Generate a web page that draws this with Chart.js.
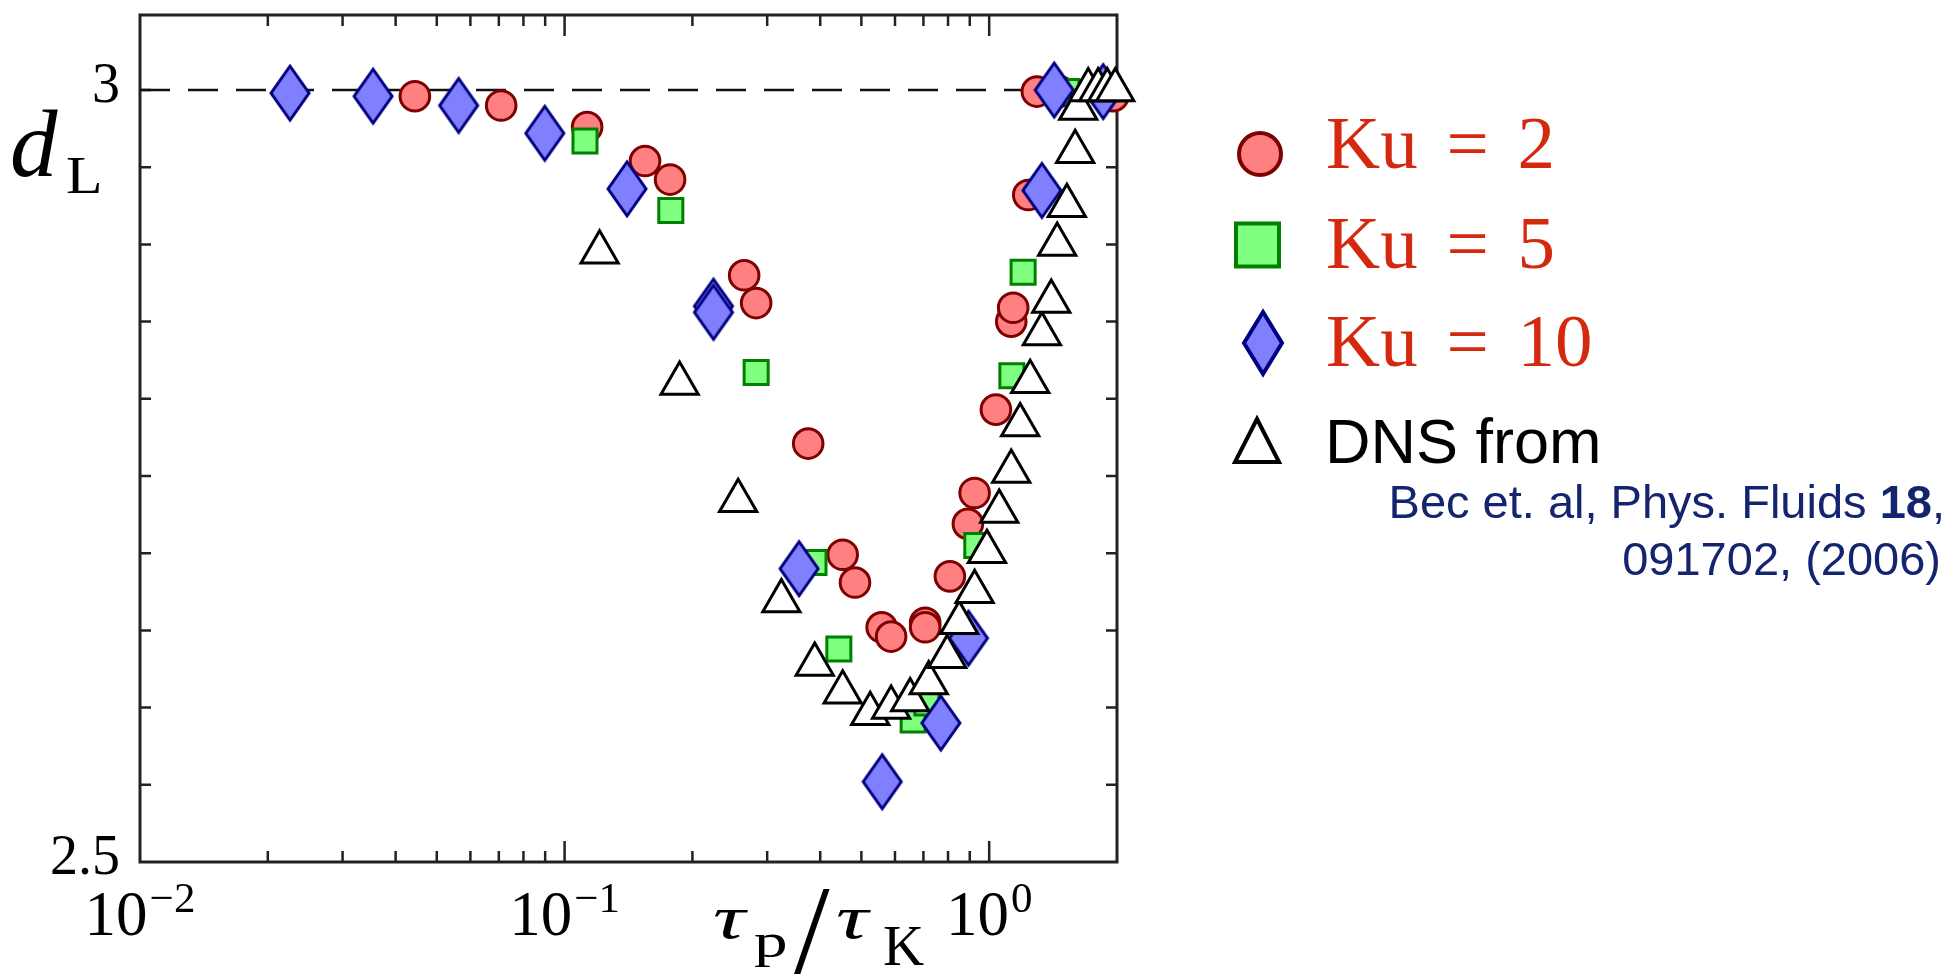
<!DOCTYPE html>
<html>
<head>
<meta charset="utf-8">
<script src="https://cdn.jsdelivr.net/npm/chart.js@4.4.1/dist/chart.umd.min.js"></script>
<style>
  html, body { margin: 0; padding: 0; background: #fff; overflow: hidden; }
  #wrap { position: relative; width: 1960px; height: 975px; }
  #chart { position: absolute; left: 0; top: 0; }
  .t { position: absolute; line-height: 1; white-space: nowrap; transform-origin: 0 0; }
  .serif { font-family: "Liberation Serif", "DejaVu Serif", serif; }
  .sans { font-family: "Liberation Sans", Arial, sans-serif; }
  .ku { left: 1326px; font-size: 75px; color: #d4290f; word-spacing: 10px; }
  .cite { font-size: 47px; color: #15246e; }
</style>
</head>
<body>
<div id="wrap">
  <canvas id="chart" width="1960" height="975"></canvas>

  <!-- axis titles -->
  <div class="t serif" style="left:10px; top:97px; font-size:95px; font-style:italic;">d</div>
  <div class="t serif" style="left:66px; top:150px; font-size:52px; transform:scaleX(1.15);">L</div>

  <div class="t serif" style="left:713px; top:886px; font-size:62px; font-style:italic; transform:scaleX(1.45);">τ</div>
  <div class="t serif" style="left:754px; top:917px; font-size:48px; transform:scaleX(1.4);">p</div>
  <div class="t serif" style="left:794px; top:866px; font-size:128px;">/</div>
  <div class="t serif" style="left:836px; top:886px; font-size:62px; font-style:italic; transform:scaleX(1.45);">τ</div>
  <div class="t serif" style="left:883px; top:917px; font-size:57px;">K</div>

  <!-- legend -->
  <svg style="position:absolute; left:1220px; top:120px;" width="80" height="360">
    <circle cx="40" cy="34" r="21" fill="#ff8080" stroke="#800000" stroke-width="4"/>
    <rect x="16" y="103.5" width="43" height="43" fill="#80ff80" stroke="#008000" stroke-width="4"/>
    <polygon points="43,192 62,223 43,254 24,223" fill="#8080ff" stroke="#000080" stroke-width="4"/>
    <polygon points="37,299 15,342 59,342" fill="#fff" stroke="#000" stroke-width="4"/>
  </svg>
  <div class="t serif ku" style="top:105px;">Ku = 2</div>
  <div class="t serif ku" style="top:205px;">Ku = 5</div>
  <div class="t serif ku" style="top:303px;">Ku = 10</div>
  <div class="t sans" style="left:1325px; top:410px; font-size:63px; color:#000;">DNS from</div>
  <div class="t sans cite" style="right:15px; top:478px;">Bec et. al, Phys. Fluids <b>18</b>,</div>
  <div class="t sans cite" style="right:19px; top:535px;">091702, (2006)</div>
</div>

<script>
// tau_p / tau_K values and d_L for each series
const ku2X = [0.0444, 0.0709, 0.113, 0.1547, 0.1772, 0.2648, 0.2826, 0.3747, 0.4518, 0.483, 0.5581, 0.5875,
              0.7067, 0.7067, 0.808, 0.891, 0.924, 1.037, 1.127, 1.139, 1.236, 1.295, 1.47, 1.96];
const ku2Y = [2.996, 2.990, 2.976, 2.954, 2.942, 2.880, 2.862, 2.771, 2.699, 2.681, 2.652, 2.646,
              2.655, 2.652, 2.685, 2.719, 2.739, 2.793, 2.850, 2.859, 2.932, 2.999, 2.999, 2.996];

const ku5X = [0.1117, 0.1779, 0.2826, 0.3867, 0.4425, 0.6622, 0.7132, 0.935, 1.131, 1.202, 1.444, 1.524];
const ku5Y = [2.967, 2.922, 2.817, 2.694, 2.638, 2.592, 2.603, 2.705, 2.815, 2.882, 2.999, 2.999];

const ku10X = [0.02256, 0.0354, 0.0563, 0.0898, 0.1403, 0.2242, 0.2242, 0.3567, 0.5598, 0.7694, 0.8938,
               1.331, 1.423, 1.856];
const ku10Y = [2.998, 2.996, 2.990, 2.972, 2.936, 2.860, 2.856, 2.690, 2.552, 2.590, 2.645,
               2.935, 3.000, 2.999];

const dnsX = [0.1209, 0.1866, 0.2563, 0.324, 0.3883, 0.4518, 0.5245, 0.5875, 0.6514, 0.7206, 0.7963, 0.85,
              0.924, 0.988, 1.056, 1.127, 1.183, 1.249, 1.331, 1.400, 1.446, 1.524, 1.594, 1.621,
              1.711, 1.806, 1.897, 1.981];
const dnsY = [2.895, 2.810, 2.734, 2.669, 2.628, 2.610, 2.596, 2.600, 2.605, 2.616, 2.633, 2.655,
              2.675, 2.701, 2.727, 2.753, 2.783, 2.811, 2.842, 2.863, 2.900, 2.925, 2.960, 2.988,
              3.0, 3.0, 3.0, 3.0];

// reference line d_L = 3
const refLineX = [0.01, 2];
const refLineY = [3, 3];

// axis ticks and labels
const xMajorTicks = [0.01, 0.1, 1];
const xTickExponents = ['\u22122', '\u22121', '0'];
const yLabelValues = [3, 2.5];
const yTickLabels = ['3', '2.5'];

function toPoints(xs, ys) {
    return xs.map((x, i) => ({ x: x, y: ys[i] }));
}

// tall diamond marker for Ku = 10
function diamondMarker() {
    const c = document.createElement('canvas');
    c.width = 46;
    c.height = 62;
    const g = c.getContext('2d');
    g.beginPath();
    g.moveTo(23, 4);
    g.lineTo(42, 31);
    g.lineTo(23, 58);
    g.lineTo(4, 31);
    g.closePath();
    g.fillStyle = '#8080ff';
    g.fill();
    g.lineWidth = 3;
    g.strokeStyle = '#000080';
    g.stroke();
    return c;
}

const framePlugin = {
    id: 'frame',
    beforeDatasetsDraw(chart) {
        const { ctx, chartArea: a, scales: { x, y } } = chart;
        ctx.save();
        ctx.strokeStyle = '#222';
        ctx.lineWidth = 2.5;
        ctx.beginPath();
        // x ticks, top and bottom, pointing inward
        for (let n = -2; n <= 0; n++) {
            for (let k = 1; k <= 9; k++) {
                const v = k * Math.pow(10, n);
                if (v <= x.min || v >= x.max) continue;
                const px = x.getPixelForValue(v);
                const len = k === 1 ? 21 : 11;
                ctx.moveTo(px, a.bottom);
                ctx.lineTo(px, a.bottom - len);
                ctx.moveTo(px, a.top);
                ctx.lineTo(px, a.top + len);
            }
        }
        // y ticks every 0.05, left and right
        for (let i = 1; i <= 10; i++) {
            const py = y.getPixelForValue(2.5 + 0.05 * i);
            ctx.moveTo(a.left, py);
            ctx.lineTo(a.left + 11, py);
            ctx.moveTo(a.right, py);
            ctx.lineTo(a.right - 11, py);
        }
        ctx.stroke();

        ctx.lineWidth = 3;
        ctx.strokeRect(a.left, a.top, a.right - a.left, a.bottom - a.top);

        // tick labels
        ctx.fillStyle = '#000';
        ctx.textBaseline = 'alphabetic';
        const base = '"Liberation Serif", "DejaVu Serif", serif';
        xMajorTicks.forEach((v, i) => {
            const px = x.getPixelForValue(v);
            ctx.font = '63px ' + base;
            const w1 = ctx.measureText('10').width;
            ctx.font = '43px ' + base;
            const w2 = ctx.measureText(xTickExponents[i]).width;
            const start = px - (w1 + w2 + 2) / 2;
            ctx.font = '63px ' + base;
            ctx.textAlign = 'left';
            ctx.fillText('10', start, 935);
            ctx.font = '43px ' + base;
            ctx.fillText(xTickExponents[i], start + w1 + 2, 912);
        });
        ctx.font = '56px ' + base;
        ctx.textAlign = 'right';
        ctx.textBaseline = 'middle';
        yLabelValues.forEach((v, i) => {
            ctx.fillText(yTickLabels[i], a.left - 20, y.getPixelForValue(v) - 3);
        });
        ctx.restore();
    }
};

const ctx = document.getElementById('chart').getContext('2d');
const chart = new Chart(ctx, {
    type: 'scatter',
    data: {
        datasets: [
            {
                label: 'DNS from Bec et. al',
                data: toPoints(dnsX, dnsY),
                pointStyle: 'triangle',
                pointRadius: 21.5,
                pointBorderWidth: 3,
                pointBackgroundColor: '#ffffff',
                pointBorderColor: '#000000',
                order: 1
            },
            {
                label: 'Ku = 10',
                data: toPoints(ku10X, ku10Y),
                pointStyle: diamondMarker(),
                pointRadius: 20,
                order: 2
            },
            {
                label: 'Ku = 5',
                data: toPoints(ku5X, ku5Y),
                pointStyle: 'rect',
                pointRadius: 17,
                pointBorderWidth: 3,
                pointBackgroundColor: '#80ff80',
                pointBorderColor: '#008000',
                order: 3
            },
            {
                label: 'Ku = 2',
                data: toPoints(ku2X, ku2Y),
                pointStyle: 'circle',
                pointRadius: 14.8,
                pointBorderWidth: 3,
                pointBackgroundColor: '#ff8080',
                pointBorderColor: '#800000',
                order: 4
            },
            {
                type: 'line',
                label: 'd = 3',
                data: toPoints(refLineX, refLineY),
                borderColor: '#111',
                borderWidth: 2.5,
                borderDash: [30, 18],
                pointRadius: 0,
                fill: false,
                order: 5
            }
        ]
    },
    options: {
        responsive: false,
        animation: false,
        devicePixelRatio: 1,
        clip: false,
        layout: {
            autoPadding: false,
            padding: { left: 140, top: 15, right: 843, bottom: 113 }
        },
        scales: {
            x: { type: 'logarithmic', min: 0.01, max: 2, display: false },
            y: { type: 'linear', min: 2.5, max: 3.0486, display: false }
        },
        plugins: {
            legend: { display: false },
            tooltip: { enabled: false }
        }
    },
    plugins: [framePlugin]
});
</script>
</body>
</html>
